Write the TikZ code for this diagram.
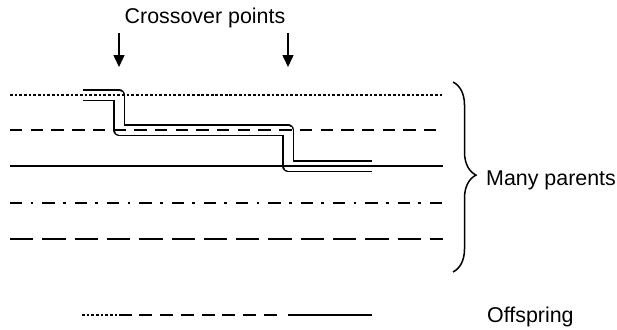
\documentclass[tikz,border=0pt]{standalone}
\usepackage{fontspec}
\setmainfont{Liberation Sans}
\usetikzlibrary{arrows.meta,decorations.pathreplacing}
\tikzset{
  parent/.style={line width=2.8pt, line cap=butt},
  dotline/.style={dash pattern=on 2.7pt off 1.97pt},
  dashline/.style={dash pattern=on 12.4pt off 8.3pt},
  dashdotline/.style={dash pattern=on 12.3pt off 8.3pt on 2.7pt off 9pt},
  longdashline/.style={dash pattern=on 23.3pt off 9pt},
  label/.style={font=\fontsize{21.4}{25}\selectfont, inner sep=0pt},
  crossarrow/.style={line width=1.6pt, -{Triangle[width=11pt,length=12pt]}},
  offpath/.style={double, double distance=9pt, line width=1.2pt, line join=round},
}
\begin{document}
\begin{tikzpicture}[x=1pt,y=-1pt]
\useasboundingbox (0,0) rectangle (617,329);
% title and arrows
\node[label, anchor=base] (title) at (205,24) {Crossover points};
\coordinate (a1s) at (119,33); \coordinate (a1e) at (119,67);
\coordinate (a2s) at (288,33); \coordinate (a2e) at (288,67);
\draw[crossarrow] (a1s) -- (a1e);
\draw[crossarrow] (a2s) -- (a2e);
% offspring path through parents
\draw[offpath] (83,95) -- (119,95) -- (119,130) -- (288,130) -- (288,166) -- (372,166);
% parents
\draw[parent,dotline] (10,95) -- (443,95);
\draw[parent,dashline] (10,130) -- (443,130);
\draw[parent] (10,166) -- (443,166);
\draw[parent,dashdotline] (10,203) -- (443,203);
\draw[parent,longdashline] (10,239) -- (443,239);
% brace
\coordinate (bt) at (453,82); \coordinate (bb) at (453,272);
\draw[line width=1.5pt, decorate, decoration={brace, amplitude=23pt, aspect=0.49}] (bt) -- (bb);
\node[label, anchor=base west] (many) at (486,185) {Many parents};
% offspring
\draw[parent,dotline] (82,315) -- (117,315);
\draw[parent,dash pattern=on 13pt off 7.7pt] (118.7,315) -- (280,315);
\draw[parent] (287.7,315) -- (372,315);
\node[label, anchor=base west] (off) at (487,322) {Offspring};
\end{tikzpicture}
\end{document}
